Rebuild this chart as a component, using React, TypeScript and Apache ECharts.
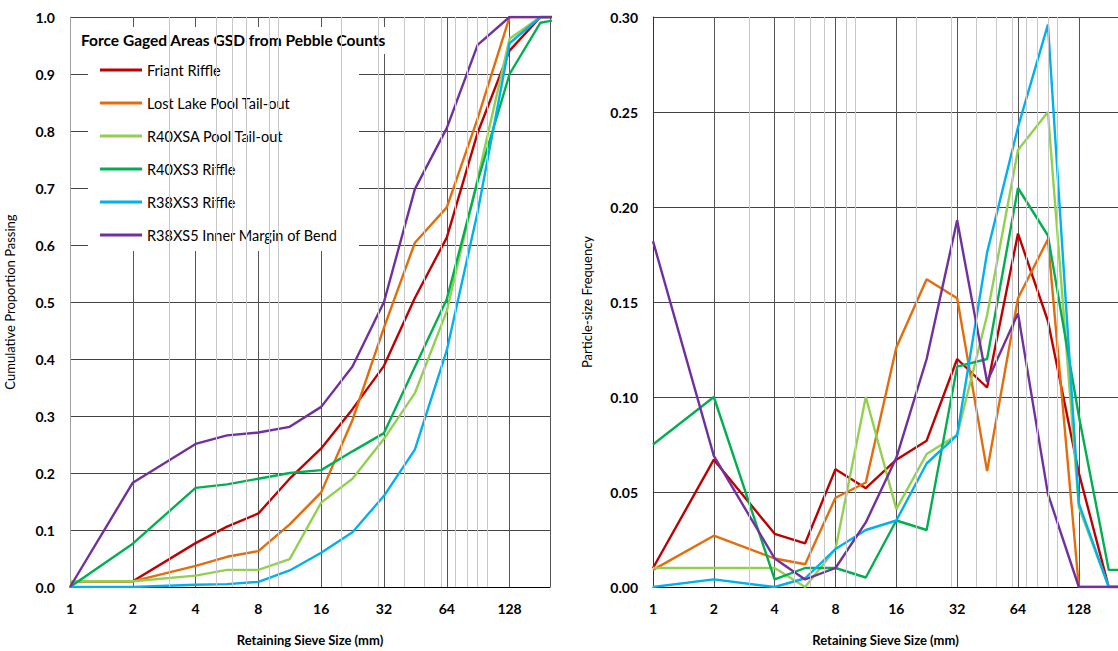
import React, { useEffect, useRef } from "react";
import * as echarts from "echarts";

// Sieve sizes (mm) at which the data points are plotted
const sieveSizes = [1, 2, 4, 5.66, 8, 11.3, 16, 22.6, 32, 45, 64, 90, 128, 180, 256];

const seriesNames = [
  "Friant Riffle",
  "Lost Lake Pool Tail-out",
  "R40XSA Pool Tail-out",
  "R40XS3 Riffle",
  "R38XS3 Riffle",
  "R38XS5 Inner Margin of Bend",
];
const seriesColors = ["#C00000", "#E46C0A", "#92D050", "#00B050", "#00B0F0", "#7030A0"];

// Cumulative proportion passing
const cumFriant = [0.01, 0.01, 0.077, 0.106, 0.129, 0.19, 0.243, 0.312, 0.388, 0.507, 0.613, 0.797, 0.941, 1.0, 1.0];
const cumLostLake = [0.01, 0.01, 0.037, 0.053, 0.063, 0.11, 0.166, 0.293, 0.455, 0.604, 0.666, 0.822, 1.0, 1.0, 1.0];
const cumR40XSA = [0.01, 0.01, 0.02, 0.03, 0.03, 0.049, 0.148, 0.19, 0.26, 0.34, 0.484, 0.716, 0.962, 1.0, 1.0];
const cumR40XS3 = [0, 0.076, 0.174, 0.18, 0.19, 0.2, 0.205, 0.238, 0.27, 0.386, 0.505, 0.712, 0.9, 0.99, 1.0];
const cumR38XS3 = [0, 0, 0.004, 0.005, 0.009, 0.029, 0.06, 0.096, 0.16, 0.241, 0.415, 0.658, 0.954, 1.0, 1.0];
const cumR38XS5 = [0, 0.183, 0.251, 0.266, 0.271, 0.281, 0.316, 0.387, 0.5, 0.698, 0.805, 0.951, 1.0, 1.0, 1.0];

// Particle-size frequency
const freqFriant = [0.01, 0.067, 0.028, 0.023, 0.062, 0.052, 0.067, 0.077, 0.12, 0.105, 0.186, 0.14, 0.06, 0.0, 0.0];
const freqLostLake = [0.009, 0.027, 0.015, 0.012, 0.047, 0.055, 0.126, 0.162, 0.152, 0.061, 0.152, 0.183, 0.0, 0.0, 0.0];
const freqR40XSA = [0.01, 0.01, 0.01, 0.0, 0.02, 0.1, 0.041, 0.07, 0.08, 0.143, 0.23, 0.25, 0.042, 0.0, 0.0];
const freqR40XS3 = [0.075, 0.1, 0.004, 0.01, 0.01, 0.005, 0.035, 0.03, 0.116, 0.12, 0.21, 0.185, 0.09, 0.009, 0.009];
const freqR38XS3 = [0, 0.004, 0, 0.0046, 0.02, 0.03, 0.035, 0.065, 0.08, 0.176, 0.242, 0.296, 0.044, 0.0, 0.0];
const freqR38XS5 = [0.182, 0.069, 0.015, 0.004, 0.01, 0.034, 0.068, 0.12, 0.193, 0.108, 0.144, 0.049, 0.0, 0.0, 0.0];

const cumSeries = [cumFriant, cumLostLake, cumR40XSA, cumR40XS3, cumR38XS3, cumR38XS5];
const freqSeries = [freqFriant, freqLostLake, freqR40XSA, freqR40XS3, freqR38XS3, freqR38XS5];

const xTickLabels = [1, 2, 4, 8, 16, 32, 64, 128];
const minorGridSizes = [3, 5, 6, 7, 9, 10, 20, 30, 40, 50, 60, 70, 80, 90, 100];

const chartTitle = "Force Gaged Areas GSD from Pebble Counts";
const FONT = "Lato";

function xAxisFor(gridIndex: number) {
  return {
    type: "log",
    logBase: 2,
    gridIndex,
    min: 1,
    max: 200,
    name: "Retaining Sieve Size (mm)",
    nameLocation: "middle",
    nameGap: 46,
    nameTextStyle: { fontFamily: FONT, fontWeight: "bold", fontSize: 13, color: "#000" },
    axisLine: { show: true, lineStyle: { color: "#000", width: 1 } },
    axisTick: { show: false },
    axisLabel: {
      fontFamily: FONT,
      fontWeight: "bold",
      fontSize: 14,
      color: "#000",
      margin: 14,
      showMaxLabel: false,
      formatter: (v: number) => {
        const r = Math.round(v);
        return xTickLabels.indexOf(r) >= 0 && Math.abs(v - r) < 1e-6 ? String(r) : "";
      },
    },
    splitLine: { show: true, lineStyle: { color: "#555", width: 1 } },
  };
}

function yAxisFor(gridIndex: number, max: number, interval: number, digits: number, name: string, nameGap: number, lineColor: string) {
  return {
    type: "value",
    gridIndex,
    min: 0,
    max,
    interval,
    name,
    nameLocation: "middle",
    nameGap,
    nameTextStyle: { fontFamily: FONT, fontSize: 13, color: "#000" },
    axisLine: { show: true, lineStyle: { color: lineColor, width: 1 } },
    axisTick: { show: false },
    axisLabel: {
      fontFamily: FONT,
      fontWeight: "bold",
      fontSize: 14,
      color: "#000",
      margin: 15,
      formatter: (v: number) => v.toFixed(digits),
    },
    splitLine: { show: true, lineStyle: { color: "#444", width: 1 } },
  };
}

function minorGridSeries(idx: number) {
  return {
    type: "line",
    name: "minor-grid-" + idx,
    xAxisIndex: idx,
    yAxisIndex: idx,
    data: [],
    z: 1,
    silent: true,
    markLine: {
      silent: true,
      symbol: "none",
      label: { show: false },
      animation: false,
      lineStyle: { color: "#c8c8c8", width: 1, type: "solid" },
      data: minorGridSizes.map((s) => ({ xAxis: s })),
    },
  };
}

export default function App() {
  const ref = useRef<HTMLDivElement>(null);

  useEffect(() => {
    if (!ref.current) return;
    const chart = echarts.init(ref.current, undefined, { renderer: "svg" });

    const lineSeries: any[] = [];
    seriesNames.forEach((name, i) => {
      lineSeries.push({
        type: "line",
        name,
        xAxisIndex: 0,
        yAxisIndex: 0,
        data: sieveSizes.map((s, j) => [s, cumSeries[i][j]]),
        symbol: "none",
        z: 3,
        color: seriesColors[i],
        lineStyle: { color: seriesColors[i], width: 2.4 },
        clip: true,
      });
      lineSeries.push({
        type: "line",
        name,
        xAxisIndex: 1,
        yAxisIndex: 1,
        data: sieveSizes.map((s, j) => [s, freqSeries[i][j]]),
        symbol: "none",
        z: 3,
        color: seriesColors[i],
        lineStyle: { color: seriesColors[i], width: 2.4 },
        clip: true,
      });
    });

    const option: any = {
      animation: false,
      backgroundColor: "#fff",
      textStyle: { fontFamily: FONT },
      grid: [
        { left: 70, top: 17, width: 480, height: 574 },
        { left: 653, top: 17, width: 471.5, height: 574 },
      ],
      xAxis: [xAxisFor(0), xAxisFor(1)],
      yAxis: [
        yAxisFor(0, 1, 0.1, 1, "Cumulative Proportion Passing", 54, "#a0a0a0"),
        yAxisFor(1, 0.3, 0.05, 2, "Particle-size Frequency", 60, "#333"),
      ],
      legend: {
        show: true,
        orient: "vertical",
        left: 95,
        top: 56,
        itemWidth: 42,
        itemHeight: 3,
        itemGap: 15,
        icon: "rect",
        data: seriesNames,
        textStyle: { fontFamily: FONT, fontSize: 14.5, color: "#000", lineHeight: 18 },
        selectedMode: false,
      },
      graphic: {
        elements: [
          { type: "rect", left: 78, top: 27, z: 1, shape: { width: 312, height: 27 }, style: { fill: "#fff" } },
          { type: "rect", left: 88, top: 52, z: 1, shape: { width: 271, height: 199 }, style: { fill: "#fff" } },
          {
            type: "text",
            left: 81,
            top: 32,
            z: 5,
            style: { text: chartTitle, font: "bold 15.5px Lato", fill: "#000" },
          },
        ],
      },
      series: [minorGridSeries(0), minorGridSeries(1), ...lineSeries],
    };

    chart.setOption(option);
    return () => chart.dispose();
  }, []);

  return (
    <div
      ref={ref}
      style={{ position: "fixed", left: 0, top: 0, width: 1118, height: 651, background: "#fff" }}
    />
  );
}
